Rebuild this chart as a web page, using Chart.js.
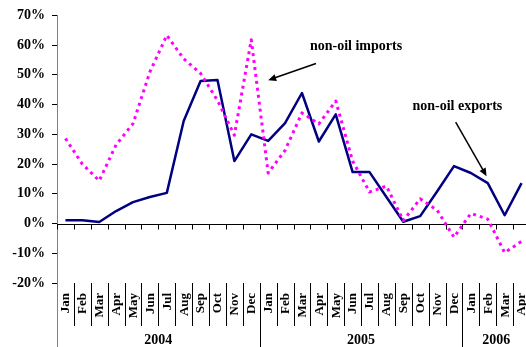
<!DOCTYPE html>
<html>
<head>
<meta charset="utf-8">
<script src="https://cdn.jsdelivr.net/npm/chart.js@4.4.1/dist/chart.umd.min.js"></script>
<style>
  html, body { margin: 0; padding: 0; background: #fff; overflow: hidden; }
  #wrap { position: relative; width: 530px; height: 347px; }
</style>
</head>
<body>
<div id="wrap"><canvas id="tradeChart"></canvas></div>
<script>
const months = ['Jan', 'Feb', 'Mar', 'Apr', 'May', 'Jun', 'Jul', 'Aug', 'Sep', 'Oct', 'Nov', 'Dec',
  'Jan', 'Feb', 'Mar', 'Apr', 'May', 'Jun', 'Jul', 'Aug', 'Sep', 'Oct', 'Nov', 'Dec',
  'Jan', 'Feb', 'Mar', 'Apr'];
const years = ['2004', '2005', '2006'];
const yearStarts = [0, 12, 24];

const nonOilExports = [1.1, 1.1, 0.5, 4.2, 7.2, 8.9, 10.3, 34.5, 47.9, 48.3, 21.0, 30.0,
  27.8, 33.8, 43.9, 27.6, 36.7, 17.3, 17.3, 8.9, 0.6, 2.5, 10.8, 19.3,
  17.0, 13.6, 2.8, 13.6];
const nonOilImports = [28.6, 20.0, 14.4, 26.5, 33.6, 51.0, 63.3, 55.4, 50.5, 41.4, 29.7, 61.8,
  17.0, 24.6, 37.2, 33.5, 41.2, 21.0, 10.6, 12.6, 1.0, 8.3, 4.5, -4.6,
  3.4, 1.5, -9.8, -6.0];

// text + arrow notes, placed in data space (category index, percent)
const notes = [
  { text: 'non-oil imports', tx: 17.2, ty: 59.6, from: [14.83, 53.8], to: [12.0, 48.2] },
  { text: 'non-oil exports', tx: 23.2, ty: 39.3, from: [23.1, 34.1], to: [24.93, 15.9] }
];

const serif = '"Liberation Serif", "Times New Roman", serif';

function arrow(ctx, x1, y1, x2, y2) {
  const a = Math.atan2(y2 - y1, x2 - x1);
  ctx.beginPath();
  ctx.moveTo(x1, y1);
  ctx.lineTo(x2 - 5 * Math.cos(a), y2 - 5 * Math.sin(a));
  ctx.stroke();
  ctx.beginPath();
  ctx.moveTo(x2, y2);
  ctx.lineTo(x2 - 8 * Math.cos(a) + 3.5 * Math.sin(a), y2 - 8 * Math.sin(a) - 3.5 * Math.cos(a));
  ctx.lineTo(x2 - 8 * Math.cos(a) - 3.5 * Math.sin(a), y2 - 8 * Math.sin(a) + 3.5 * Math.cos(a));
  ctx.closePath();
  ctx.fill();
}

const axisDecor = {
  id: 'axisDecor',
  beforeDatasetsDraw(chart) {
    const { ctx, chartArea } = chart;
    const x = chart.scales.x, y = chart.scales.y;
    const step = x.getPixelForValue(1) - x.getPixelForValue(0);
    const y0 = Math.round(y.getPixelForValue(0)) + 0.5;
    ctx.save();
    ctx.strokeStyle = '#000';
    ctx.lineWidth = 1;
    ctx.beginPath();
    ctx.moveTo(chartArea.left, y0);
    ctx.lineTo(chartArea.right, y0);
    for (let i = 0; i <= months.length; i++) {
      const bx = Math.round(x.getPixelForValue(i) - step / 2) + 0.5;
      ctx.moveTo(bx, y0);
      ctx.lineTo(bx, y0 + 5);
    }
    ctx.stroke();
    ctx.restore();
  },
  afterDraw(chart) {
    const { ctx, chartArea } = chart;
    const x = chart.scales.x, y = chart.scales.y;
    const step = x.getPixelForValue(1) - x.getPixelForValue(0);
    const bottom = chartArea.bottom;
    ctx.save();

    // month separators and year separators
    ctx.lineWidth = 1;
    ctx.strokeStyle = '#000';
    ctx.beginPath();
    for (let i = 1; i <= months.length; i++) {
      const bx = Math.round(x.getPixelForValue(i) - step / 2) + 0.5;
      const isYear = yearStarts.includes(i);
      ctx.moveTo(bx, bottom);
      ctx.lineTo(bx, isYear ? chart.height : bottom + 43);
    }
    ctx.stroke();
    ctx.strokeStyle = '#808080';
    ctx.beginPath();
    ctx.moveTo(chartArea.left + 0.5, bottom);
    ctx.lineTo(chartArea.left + 0.5, chart.height);
    ctx.stroke();

    // rotated month labels
    ctx.fillStyle = '#000';
    ctx.font = 'bold 13px ' + serif;
    ctx.textAlign = 'right';
    ctx.textBaseline = 'middle';
    months.forEach((m, i) => {
      ctx.save();
      ctx.translate(x.getPixelForValue(i) + 0.5, bottom + 10);
      ctx.rotate(-Math.PI / 2);
      ctx.fillText(m, 0, 0);
      ctx.restore();
    });

    // year labels
    ctx.font = 'bold 14px ' + serif;
    ctx.textAlign = 'center';
    years.forEach((yr, k) => {
      const start = yearStarts[k];
      const end = k + 1 < yearStarts.length ? yearStarts[k + 1] : months.length;
      const cx = (x.getPixelForValue(start) + x.getPixelForValue(end - 1)) / 2;
      ctx.fillText(yr, cx, bottom + 57);
    });

    // notes
    ctx.strokeStyle = '#000';
    ctx.lineWidth = 1.5;
    notes.forEach(n => {
      ctx.fillText(n.text, x.getPixelForValue(n.tx), y.getPixelForValue(n.ty));
      arrow(ctx,
        x.getPixelForValue(n.from[0]), y.getPixelForValue(n.from[1]),
        x.getPixelForValue(n.to[0]), y.getPixelForValue(n.to[1]));
    });
    ctx.restore();
  }
};

new Chart(document.getElementById('tradeChart'), {
  type: 'line',
  data: {
    labels: months,
    datasets: [
      {
        label: 'non-oil imports',
        data: nonOilImports,
        borderColor: '#ff00ff',
        borderWidth: 3,
        borderDash: [3, 4],
        borderJoinStyle: 'round',
        pointRadius: 0,
        tension: 0
      },
      {
        label: 'non-oil exports',
        data: nonOilExports,
        borderColor: '#000080',
        borderWidth: 2.5,
        borderJoinStyle: 'round',
        pointRadius: 0,
        tension: 0
      }
    ]
  },
  plugins: [axisDecor],
  options: {
    responsive: true,
    maintainAspectRatio: false,
    animation: false,
    layout: { padding: { top: 15, right: 0, bottom: 64, left: 0 } },
    plugins: { legend: { display: false }, tooltip: { enabled: false } },
    scales: {
      x: { display: false, offset: true },
      y: {
        min: -20,
        max: 70,
        afterFit(scale) { scale.width = 57; },
        ticks: {
          stepSize: 10,
          padding: 7,
          color: '#000',
          font: { family: serif, size: 14, weight: 'bold' },
          callback: v => v + '%'
        },
        border: { color: '#808080', width: 1 },
        grid: { drawOnChartArea: false, drawTicks: true, tickLength: 5, tickColor: '#000' }
      }
    }
  }
});
</script>
</body>
</html>
